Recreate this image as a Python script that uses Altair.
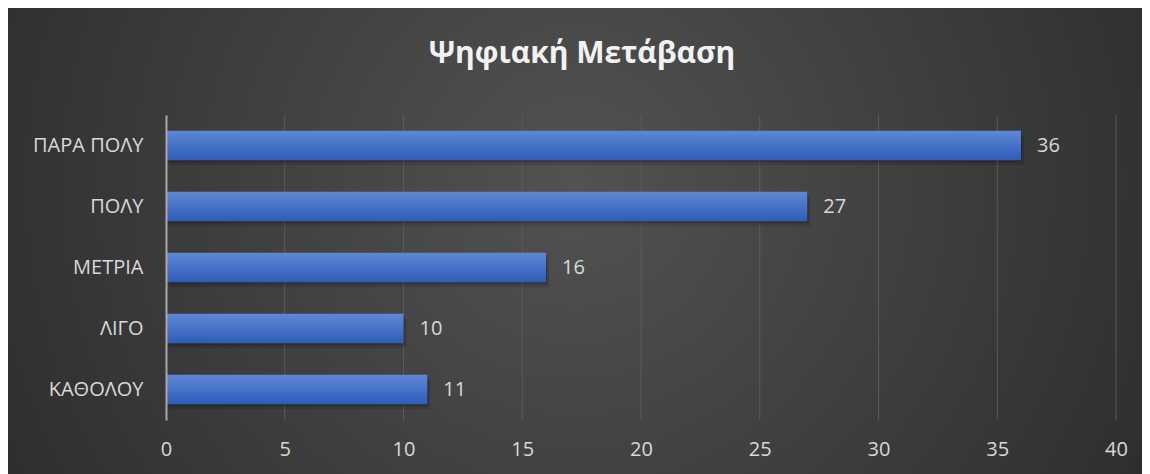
import altair as alt
import pandas as pd

categories = ["ΠΑΡΑ ΠΟΛΥ", "ΠΟΛΥ", "ΜΕΤΡΙΑ", "ΛΙΓΟ", "ΚΑΘΟΛΟΥ"]
values = [36, 27, 16, 10, 11]
x_ticks = [0, 5, 10, 15, 20, 25, 30, 35, 40]
title_text = "Ψηφιακή Μετάβαση"

df = pd.DataFrame({"cat": categories, "val": values})
ticks_df = pd.DataFrame({"tick": x_ticks})
bg_df = pd.DataFrame({"title": [title_text]})

W, H = 950, 305
PAD = {"left": 158, "top": 107, "right": 26, "bottom": 54}
FONT = "Open Sans"
TXT = "#d9d9d9"
FS = 20

x_scale = alt.Scale(domain=[0, 40], nice=False)
y_scale = alt.Scale(domain=categories, paddingInner=0.52, paddingOuter=0.26)

bg = alt.Chart(bg_df).mark_rect(
    fill={
        "gradient": "radial",
        "x1": 0.5, "y1": 0.45, "r1": 0,
        "x2": 0.5, "y2": 0.45, "r2": 0.75,
        "stops": [
            {"offset": 0, "color": "#525252"},
            {"offset": 1, "color": "#222222"},
        ],
    },
    stroke=None,
).encode(
    x=alt.value(-PAD["left"]),
    x2=alt.value(W + PAD["right"]),
    y=alt.value(-PAD["top"]),
    y2=alt.value(H + PAD["bottom"]),
)

title = alt.Chart(bg_df).mark_text(
    align="center", baseline="alphabetic", font=FONT, fontSize=30,
    fontWeight="bold", color="#f2f2f2",
).encode(
    x=alt.value(416),
    y=alt.value(-52),
    text="title:N",
)

grid = alt.Chart(ticks_df).mark_rule(color="#5a5a5a", strokeWidth=1).encode(
    x=alt.X("tick:Q", scale=x_scale)
).transform_filter(alt.datum.tick > 0)

shadow1 = alt.Chart(df).mark_bar(color="#000000", opacity=0.12, xOffset=3, yOffset=5).encode(
    x=alt.X("val:Q", scale=x_scale),
    y=alt.Y("cat:N", scale=y_scale, sort=categories),
)
shadow2 = alt.Chart(df).mark_bar(color="#000000", opacity=0.18, xOffset=1, yOffset=2).encode(
    x=alt.X("val:Q", scale=x_scale),
    y=alt.Y("cat:N", scale=y_scale, sort=categories),
)

bars = alt.Chart(df).mark_bar(
    fill={
        "gradient": "linear",
        "x1": 0, "y1": 0, "x2": 0, "y2": 1,
        "stops": [
            {"offset": 0, "color": "#6087d5"},
            {"offset": 1, "color": "#2d5db8"},
        ],
    }
).encode(
    x=alt.X(
        "val:Q",
        scale=x_scale,
        axis=alt.Axis(
            values=x_ticks, grid=False, ticks=False, domain=False,
            labelColor=TXT, labelFont=FONT, labelFontSize=FS,
            labelPadding=19, labelFlush=False, title=None, zindex=1,
        ),
    ),
    y=alt.Y(
        "cat:N",
        scale=y_scale,
        sort=categories,
        axis=alt.Axis(
            grid=False, ticks=False, domain=True, domainColor="#a8a8a8",
            domainWidth=2, labelColor=TXT, labelFont=FONT, labelFontSize=FS,
            labelPadding=23, title=None, zindex=1,
        ),
    ),
)

labels = alt.Chart(df).mark_text(
    align="left", baseline="middle", dx=16, font=FONT, fontSize=FS, color=TXT
).encode(
    x=alt.X("val:Q", scale=x_scale),
    y=alt.Y("cat:N", scale=y_scale, sort=categories),
    text="val:Q",
)

chart = alt.layer(bg, title, grid, shadow1, shadow2, bars, labels).properties(
    width=W,
    height=H,
    padding=PAD,
    autosize=alt.AutoSizeParams(type="none"),
    background="#2a2a2a",
).configure_view(stroke=None)

chart.save("out.html", embed_options={"renderer": "svg", "actions": False})
